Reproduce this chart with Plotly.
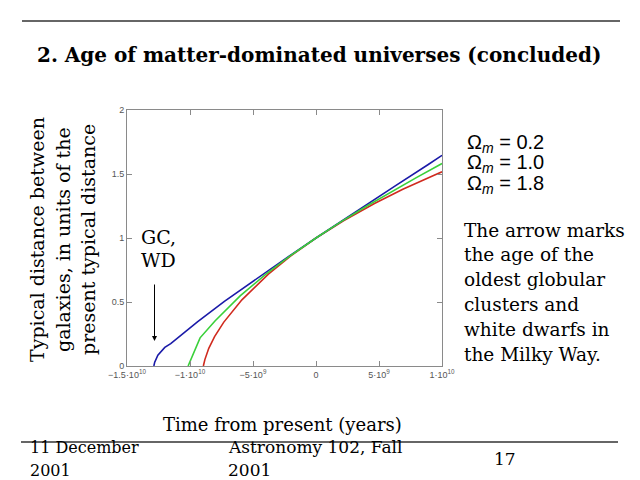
import plotly.graph_objects as go

# ---- data ----
blue_t = [-1.287e10, -1.280e10, -1.255e10, -1.20e10, -1.153e10, -1.066e10, -9.41e9, -7.27e9,
          -4.17e9, -2.16e9, 0.0, 2.04e9, 4.09e9, 6.35e9, 8.88e9, 1.0e10]
blue_a = [0.0, 0.03, 0.085, 0.145, 0.175, 0.246, 0.345, 0.505,
          0.721, 0.857, 1.0, 1.134, 1.265, 1.411, 1.572, 1.646]

green_t = [-1.015e10, -9.2e9, -8.0e9, -6.0e9, -4.0e9, -2.0e9, 0.0, 2.0e9, 4.0e9, 6.0e9, 8.0e9, 1.0e10]
green_a = [0.0, 0.22, 0.354, 0.550, 0.715, 0.864, 1.0, 1.128, 1.248, 1.364, 1.474, 1.582]

red_t = [-8.94e9, -8.88e9, -8.82e9, -8.51e9, -8.05e9, -7.33e9, -5.88e9, -3.78e9, -2.05e9,
         0.0, 2.18e9, 4.64e9, 6.89e9, 9.33e9, 1.0e10]
red_a = [0.0, 0.022, 0.050, 0.138, 0.229, 0.341, 0.517, 0.717, 0.857,
         1.0, 1.135, 1.270, 1.381, 1.489, 1.517]

x_ticks = [-1.5e10, -1.0e10, -5e9, 0, 5e9, 1e10]
x_ticktext = ["−1.5·10<sup>10</sup>", "−1·10<sup>10</sup>", "−5·10<sup>9</sup>", "0",
              "5·10<sup>9</sup>", "1·10<sup>10</sup>"]
y_ticks = [0, 0.5, 1, 1.5, 2]
y_ticktext = ["0", "0.5", "1", "1.5", "2"]

legend_lines = ["Ω<sub><i>m</i></sub> = 0.2", "Ω<sub><i>m</i></sub> = 1.0", "Ω<sub><i>m</i></sub> = 1.8"]
note_lines = ["The arrow marks", "the age of the", "oldest globular", "clusters and",
              "white dwarfs in", "the Milky Way."]
ytitle_lines = ["Typical distance between", "galaxies, in units of the", "present typical distance"]

# ---- layout geometry ----
W, H = 640, 480
L, R, T, B = 127, 198, 110, 114
PW, PH = W - L - R, H - T - B


def px(x):
    return (x - L) / PW


def py(y):
    return (H - B - y) / PH


SERIF = "DejaVu Serif"
SANS = "Liberation Sans"

fig = go.Figure()
fig.add_trace(go.Scatter(x=red_t, y=red_a, mode="lines", line=dict(color="#d02a1e", width=1.6), showlegend=False))
fig.add_trace(go.Scatter(x=blue_t, y=blue_a, mode="lines", line=dict(color="#1a1aa8", width=1.6), showlegend=False))
fig.add_trace(go.Scatter(x=green_t, y=green_a, mode="lines", line=dict(color="#3ad03a", width=1.6), showlegend=False))

axis_common = dict(showgrid=False, zeroline=False, showline=True, linecolor="#8a8a8a", linewidth=1,
                   mirror="ticks", ticks="inside", ticklen=5, tickcolor="#8a8a8a",
                   tickfont=dict(family=SANS, size=9, color="#555555"))
fig.update_xaxes(range=[-1.5e10, 1.0e10], tickmode="array", tickvals=x_ticks, ticktext=x_ticktext, **axis_common)
fig.update_yaxes(range=[0, 2], tickmode="array", tickvals=y_ticks, ticktext=y_ticktext, **axis_common)

ann = []
# title
ann.append(dict(x=px(319), y=py(55), xref="paper", yref="paper", text="<b>2. Age of matter-dominated universes (concluded)</b>",
                showarrow=False, font=dict(family=SERIF, size=20, color="black"), xanchor="center", yanchor="middle"))
# x title
ann.append(dict(x=px(282), y=py(424), xref="paper", yref="paper", text="Time from present (years)",
                showarrow=False, font=dict(family=SERIF, size=18, color="black"), xanchor="center", yanchor="middle"))
# y title lines
for xc, line in zip([37, 63, 88], ytitle_lines):
    ann.append(dict(x=px(xc), y=py(240), xref="paper", yref="paper", text=line, textangle=-90,
                    showarrow=False, font=dict(family=SERIF, size=19, color="black"), xanchor="center", yanchor="middle"))
# legend text
for yc, line in zip([143, 163.5, 184], legend_lines):
    ann.append(dict(x=px(465), y=py(yc), xref="paper", yref="paper", text=line,
                    showarrow=False, font=dict(family=SANS, size=20, color="black"), xanchor="left", yanchor="middle"))
# note text
for i, line in enumerate(note_lines):
    ann.append(dict(x=px(462), y=py(230 + 24.8 * i), xref="paper", yref="paper", text=line,
                    showarrow=False, font=dict(family=SERIF, size=18.5, color="black"), xanchor="left", yanchor="middle"))
# GC, WD
ann.append(dict(x=px(139), y=py(237), xref="paper", yref="paper", text="GC,",
                showarrow=False, font=dict(family=SERIF, size=19, color="black"), xanchor="left", yanchor="middle"))
ann.append(dict(x=px(139), y=py(260), xref="paper", yref="paper", text="WD",
                showarrow=False, font=dict(family=SERIF, size=19, color="black"), xanchor="left", yanchor="middle"))
# arrow
ann.append(dict(x=px(154.5), y=py(341), xref="paper", yref="paper", ax=0, ay=-58, text="",
                showarrow=True, arrowhead=2, arrowsize=1, arrowwidth=1, arrowcolor="black"))
# footer
foot = [(28, 447, "11 December", 16), (28, 470, "2001", 16), (226, 447, "Astronomy 102, Fall", 17),
        (226, 470, "2001", 17), (492, 459, "17", 17)]
for xl, yc, txt, fs in foot:
    ann.append(dict(x=px(xl), y=py(yc), xref="paper", yref="paper", text=txt,
                    showarrow=False, font=dict(family=SERIF, size=fs, color="black"), xanchor="left", yanchor="middle"))

shapes = [
    dict(type="line", xref="paper", yref="paper", x0=px(22), x1=px(620), y0=py(21), y1=py(21),
         line=dict(color="#333333", width=1.5)),
    dict(type="line", xref="paper", yref="paper", x0=px(21), x1=px(618), y0=py(442), y1=py(442),
         line=dict(color="#333333", width=1.5)),
]

fig.update_layout(width=W, height=H, margin=dict(l=L, r=R, t=T, b=B), paper_bgcolor="white",
                  plot_bgcolor="white", annotations=ann, shapes=shapes, showlegend=False)

fig.write_html("out.html", config={"displayModeBar": False},
               post_script="document.body.style.margin='0px';document.body.style.overflow='hidden';")
